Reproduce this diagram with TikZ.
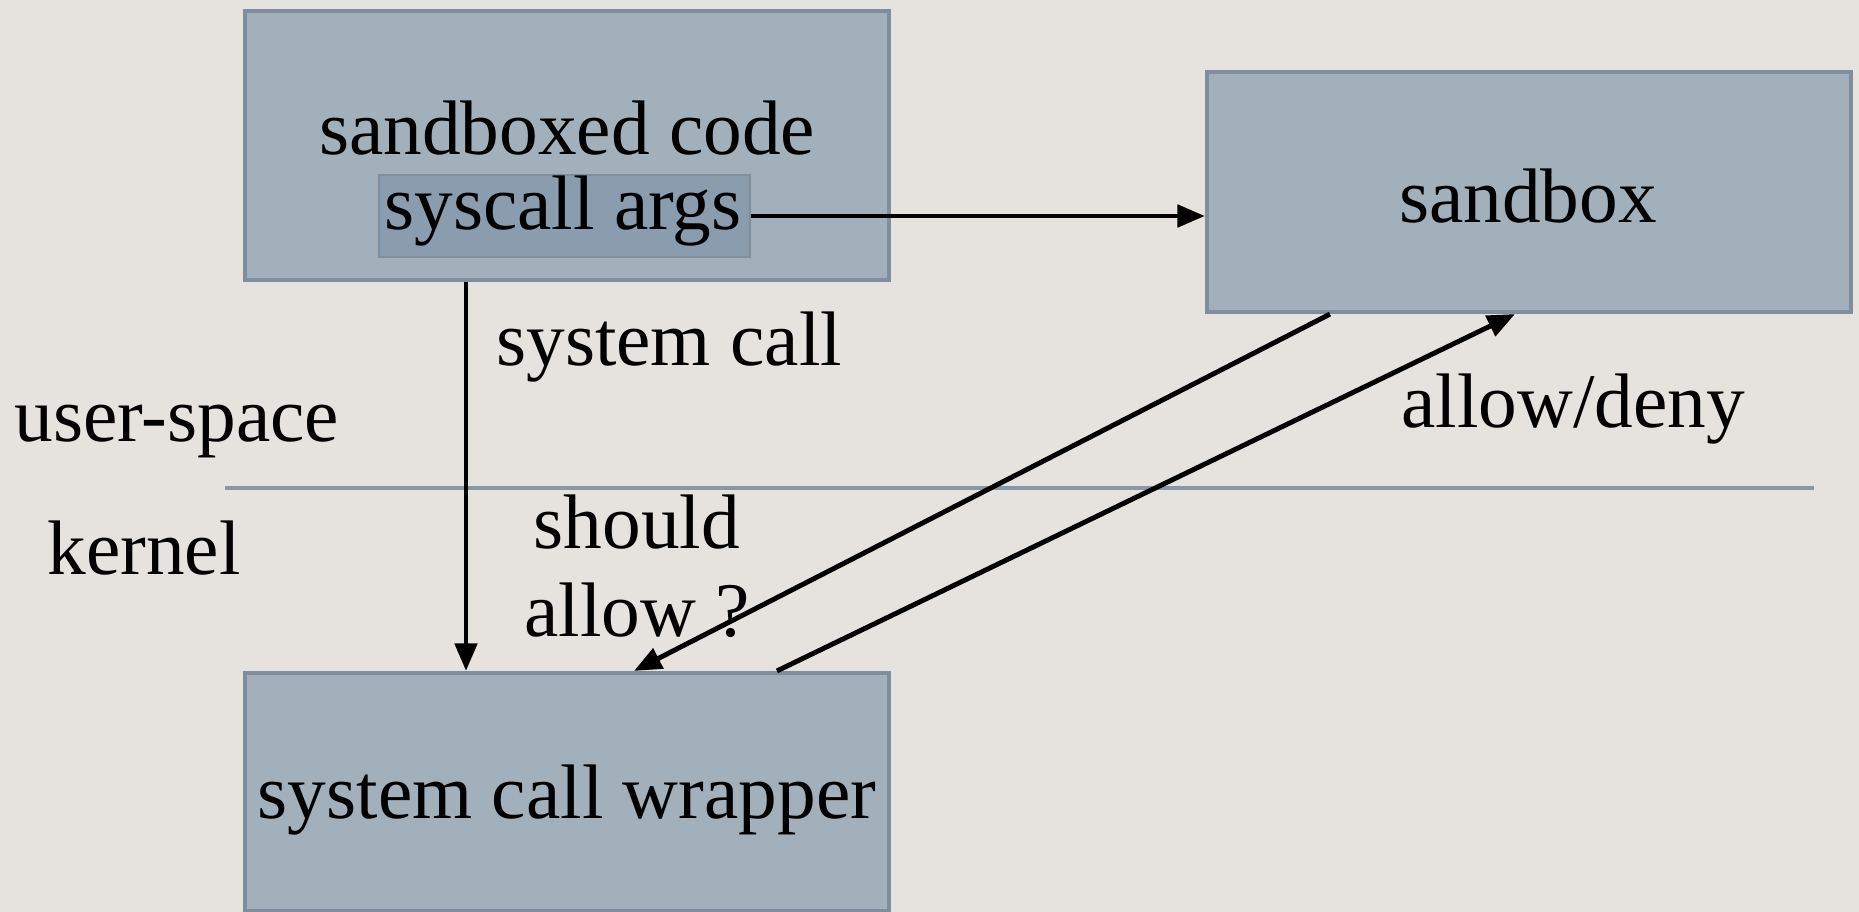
\documentclass[tikz,border=0pt]{standalone}
\usepackage{fontspec}
\setmainfont{Liberation Serif}
\usepackage{xcolor}
\usetikzlibrary{arrows.meta,positioning,backgrounds}
\definecolor{paper}{HTML}{E6E3DE}
\definecolor{boxF}{HTML}{A2B0BC}
\definecolor{boxD}{HTML}{808D9C}
\definecolor{argF}{HTML}{8A9DAE}
\definecolor{lineC}{HTML}{8898A8}

\begin{document}
\begin{tikzpicture}[
  x=0.02cm, y=-0.02cm,
  font=\fontsize{44}{48}\selectfont,
  >={Triangle[length=5.5mm, width=4.4mm]},
  box/.style  ={draw=boxD, fill=boxF, line width=2.4pt, inner sep=0pt,
                align=center},
  inbox/.style={draw=boxD, fill=argF, line width=1.6pt, inner sep=4pt,
                minimum width=7.42cm, minimum height=1.64cm},
  flow/.style ={->, draw=black, line width=2.8pt},
  lbl/.style  ={inner sep=0pt, align=center},
]

% ---- canvas ----------------------------------------------------------------
\fill[paper] (0,0) rectangle (1859,912);
\useasboundingbox (0,0) rectangle (1859,912);

% ---- boxes -----------------------------------------------------------------
\node[box, minimum width=12.88cm, minimum height=5.38cm] (code) at (567,145.5) {};
\node[lbl] (codetxt) at (567,128) {sandboxed code};
\node[inbox] (args) at (564.5,216) {};
\node[lbl] (argstxt) at (563,211) {syscall args};

\node[box, minimum width=12.88cm, minimum height=4.80cm] (sbx) at (1529,192) {};
\node[lbl] (sbxtxt) at (1528,196) {sandbox};
\node[box, minimum width=12.88cm, minimum height=4.76cm] (wrap) at (567,792) {};
\node[lbl] (wraptxt) at (567,800) {system call wrapper};

% ---- user-space / kernel border --------------------------------------------
\coordinate (sepL) at (225,488);
\coordinate (sepR) at (1814,488);
\draw[lineC, line width=2pt] (sepL) -- (sepR);
\node[lbl, anchor=west] (user) at (14,432) {user-space};
\node[lbl, anchor=west] (kern) at (47,548) {kernel};

% ---- connectors ------------------------------------------------------------
\draw[flow] (args.east) -- (args.east -| sbx.west);
\draw[flow] (code.south -| 466,0) -- (wrap.north -| 466,0);
\draw[flow] (sbx.south -| 1330,0) -- (wrap.north -| 634,0);
\draw[flow] (wrap.north -| 777,0) -- (sbx.south -| 1515,0);

% ---- labels ----------------------------------------------------------------
\node[lbl, anchor=west] (sc) at (496,347) {system call};
\node[lbl] (ask) at (637,566) {should\\[2pt]allow ?};
\node[lbl, anchor=west] (ad) at (1401,409) {allow/deny};

\end{tikzpicture}
\end{document}
